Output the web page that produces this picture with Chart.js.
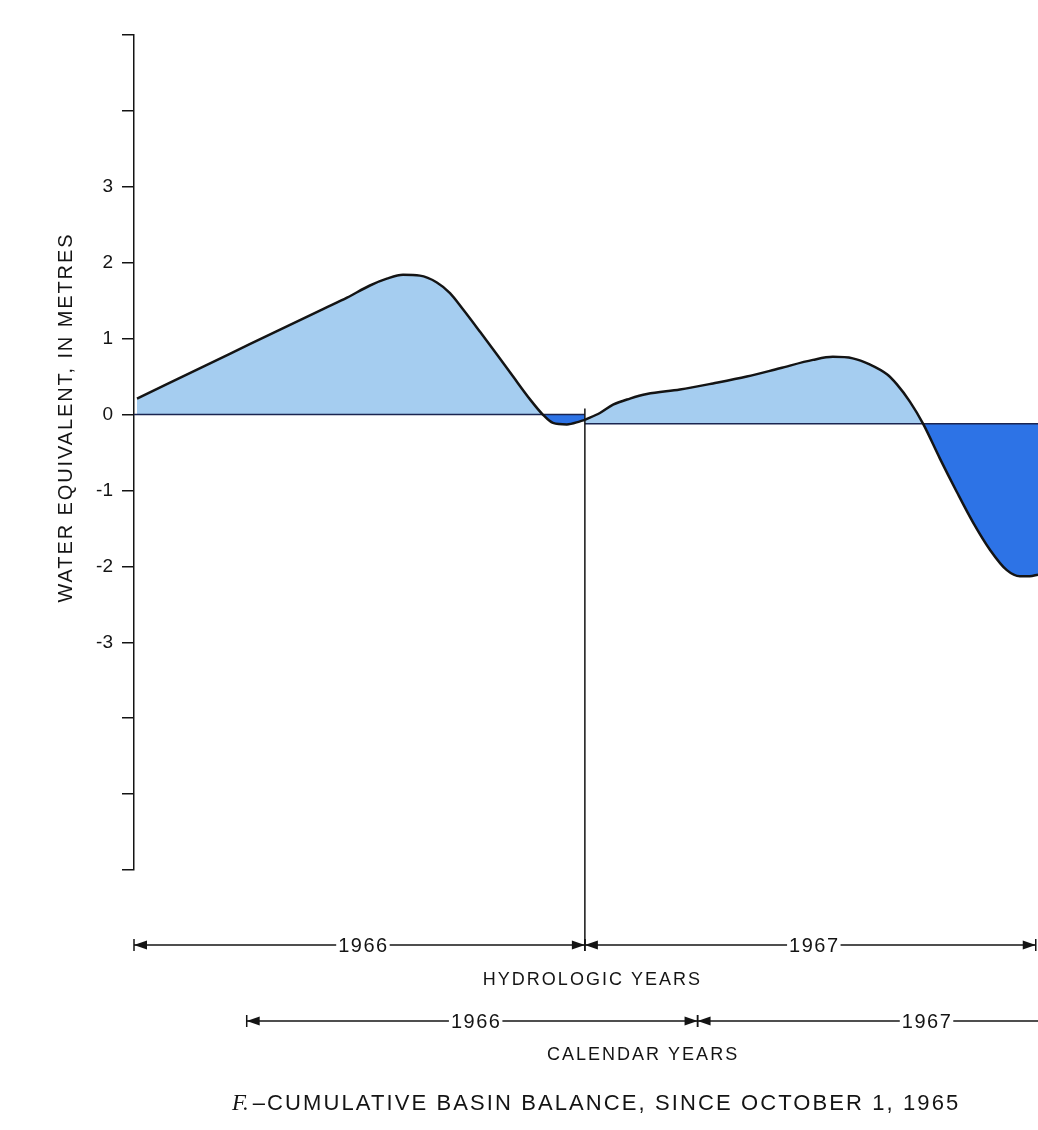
<!DOCTYPE html>
<html>
<head>
<meta charset="utf-8">
<script src="https://cdn.jsdelivr.net/npm/chart.js@4.4.1/dist/chart.umd.min.js"></script>
<style>
  body { margin: 0; background: #fff; }
  #wrap { width: 1038px; height: 1130px; position: relative; }
</style>
</head>
<body>
<div id="wrap"><canvas id="balanceChart"></canvas></div>
<script>
// x values are months since October 1, 1965
const months1966 = [0.08, 2.55, 5.03, 5.67, 6.28, 6.73, 7.16, 7.61, 8.06, 8.41, 8.75, 9.21, 9.66, 10.09, 10.54, 10.88, 11.15, 11.52, 11.87, 12.0];
const balance1966 = [0.21, 0.80, 1.39, 1.54, 1.70, 1.79, 1.84, 1.83, 1.74, 1.60, 1.39, 1.09, 0.79, 0.50, 0.20, 0.0, -0.11, -0.13, -0.09, -0.07];
const months1967 = [12.0, 12.4, 12.75, 13.2, 13.65, 14.53, 15.41, 16.31, 17.19, 18.07, 18.6, 19.13, 19.58, 20.04, 20.3, 20.65, 21.0, 21.45, 21.9, 22.33, 22.78, 23.23, 23.58, 23.84, 24.06];
const balance1967 = [-0.07, 0.02, 0.13, 0.21, 0.27, 0.33, 0.41, 0.50, 0.61, 0.72, 0.76, 0.74, 0.66, 0.53, 0.40, 0.17, -0.12, -0.58, -1.02, -1.42, -1.78, -2.05, -2.13, -2.13, -2.11];
const baseline1966 = 0;
const baseline1967 = -0.12;

const yTickLabels = ['-3', '-2', '-1', '0', '1', '2', '3'];

const hydroYears = ['1966', '1967'];
const hydroSpans = [[0, 12], [12, 24]];
const calendarYears = ['1966', '1967'];
const calendarSpans = [[3, 15], [15, 27]];

const LIGHT = '#a5cdf0';
const DARK = '#2d73e6';
const INK = '#141414';
const SANS = '"Liberation Sans", Arial, sans-serif';

function toPoints(xs, ys) {
    return xs.map((v, i) => ({x: v, y: ys[i]}));
}

function drawSpan(ctx, x0, x1, yy, label, font) {
    ctx.beginPath();
    ctx.moveTo(x0, yy);
    ctx.lineTo(x1, yy);
    ctx.stroke();
    // end bars
    [x0, x1].forEach(px => {
        ctx.beginPath();
        ctx.moveTo(px, yy - 6);
        ctx.lineTo(px, yy + 6);
        ctx.stroke();
    });
    // arrow heads
    ctx.beginPath();
    ctx.moveTo(x0, yy);
    ctx.lineTo(x0 + 13, yy - 4.5);
    ctx.lineTo(x0 + 13, yy + 4.5);
    ctx.closePath();
    ctx.fill();
    ctx.beginPath();
    ctx.moveTo(x1, yy);
    ctx.lineTo(x1 - 13, yy - 4.5);
    ctx.lineTo(x1 - 13, yy + 4.5);
    ctx.closePath();
    ctx.fill();
    // label
    ctx.font = font;
    ctx.letterSpacing = '1.5px';
    const w = ctx.measureText(label).width;
    const cx = (x0 + x1) / 2 + 4;
    ctx.fillStyle = '#fff';
    ctx.fillRect(cx - w / 2 - 2, yy - 10, w + 3, 20);
    ctx.fillStyle = INK;
    ctx.textAlign = 'center';
    ctx.textBaseline = 'middle';
    ctx.fillText(label, cx, yy + 1);
}

const annotations = {
    id: 'annotations',
    afterDraw(chart) {
        const {ctx, chartArea, scales: {x, y}} = chart;
        ctx.save();
        ctx.strokeStyle = INK;
        ctx.fillStyle = INK;
        ctx.lineWidth = 1.5;

        const hydroY = chartArea.bottom + 75;
        const calY = chartArea.bottom + 151;

        // divider between hydrologic years
        const xd = x.getPixelForValue(hydroSpans[0][1]);
        ctx.beginPath();
        ctx.moveTo(xd, y.getPixelForValue(0.08));
        ctx.lineTo(xd, hydroY);
        ctx.stroke();

        const yearFont = '20px ' + SANS;
        hydroSpans.forEach((s, i) => {
            ctx.fillStyle = INK;
            drawSpan(ctx, x.getPixelForValue(s[0]), x.getPixelForValue(s[1]), hydroY, hydroYears[i], yearFont);
        });
        calendarSpans.forEach((s, i) => {
            ctx.fillStyle = INK;
            drawSpan(ctx, x.getPixelForValue(s[0]), x.getPixelForValue(s[1]), calY, calendarYears[i], yearFont);
        });

        ctx.fillStyle = INK;
        ctx.textAlign = 'center';
        ctx.textBaseline = 'middle';
        ctx.font = '18px ' + SANS;
        ctx.letterSpacing = '2px';
        ctx.fillText('HYDROLOGIC YEARS', x.getPixelForValue(12.2), chartArea.bottom + 110);
        ctx.fillText('CALENDAR YEARS', x.getPixelForValue(13.55), chartArea.bottom + 185);

        // y axis title
        ctx.save();
        ctx.translate(66, y.getPixelForValue(0) + 3);
        ctx.rotate(-Math.PI / 2);
        ctx.font = '20px ' + SANS;
        ctx.letterSpacing = '1.9px';
        ctx.fillText('WATER EQUIVALENT, IN METRES', 0, 0);
        ctx.restore();

        // figure caption
        const cy = chartArea.bottom + 234;
        ctx.letterSpacing = '0px';
        ctx.font = 'italic 23px "Liberation Serif", serif';
        const fTxt = 'F.';
        const fW = ctx.measureText(fTxt).width;
        ctx.font = '22px ' + SANS;
        ctx.letterSpacing = '2.1px';
        const rest = '\u2013CUMULATIVE BASIN BALANCE, SINCE OCTOBER 1, 1965';
        const rW = ctx.measureText(rest).width;
        const left = x.getPixelForValue(12.3) - (fW + 4 + rW) / 2;
        ctx.textAlign = 'left';
        ctx.letterSpacing = '0px';
        ctx.font = 'italic 23px "Liberation Serif", serif';
        ctx.fillText(fTxt, left, cy);
        ctx.font = '22px ' + SANS;
        ctx.letterSpacing = '2.1px';
        ctx.fillText(rest, left + fW + 4, cy);
        ctx.restore();
    }
};

const chart = new Chart(document.getElementById('balanceChart'), {
    type: 'line',
    data: {
        datasets: [
            {
                label: 'Balance 1966',
                data: toPoints(months1966, balance1966),
                borderColor: INK,
                borderWidth: 2.5,
                pointRadius: 0,
                cubicInterpolationMode: 'monotone',
                fill: {target: {value: baseline1966}, above: LIGHT, below: DARK}
            },
            {
                label: 'Balance 1967',
                data: toPoints(months1967, balance1967),
                borderColor: INK,
                borderWidth: 2.5,
                pointRadius: 0,
                cubicInterpolationMode: 'monotone',
                fill: {target: {value: baseline1967}, above: LIGHT, below: DARK}
            },
            {
                label: 'Baseline 1966',
                data: toPoints([0, 12], [baseline1966, baseline1966]),
                borderColor: '#1b2550',
                borderWidth: 1.5,
                pointRadius: 0,
                fill: false
            },
            {
                label: 'Baseline 1967',
                data: toPoints([12, 24.06], [baseline1967, baseline1967]),
                borderColor: '#1b2550',
                borderWidth: 1.5,
                pointRadius: 0,
                fill: false
            }
        ]
    },
    options: {
        responsive: true,
        maintainAspectRatio: false,
        animation: false,
        layout: {padding: {top: 35, bottom: 260, left: 0, right: 0}},
        scales: {
            x: {type: 'linear', min: 0, max: 24.06, display: false},
            y: {
                min: -6,
                max: 5,
                afterFit: function(scale) { scale.width = 134; },
                ticks: {
                    stepSize: 1,
                    color: INK,
                    padding: 9,
                    font: {size: 19, family: SANS},
                    callback: function(value) {
                        const s = String(value);
                        return yTickLabels.includes(s) ? s : '';
                    }
                },
                grid: {drawOnChartArea: false, tickLength: 12, color: INK, lineWidth: 1.5},
                border: {color: INK, width: 1.5}
            }
        },
        plugins: {
            legend: {display: false},
            tooltip: {enabled: false},
            filler: {drawTime: 'beforeDatasetsDraw'}
        }
    },
    plugins: [annotations]
});
</script>
</body>
</html>
